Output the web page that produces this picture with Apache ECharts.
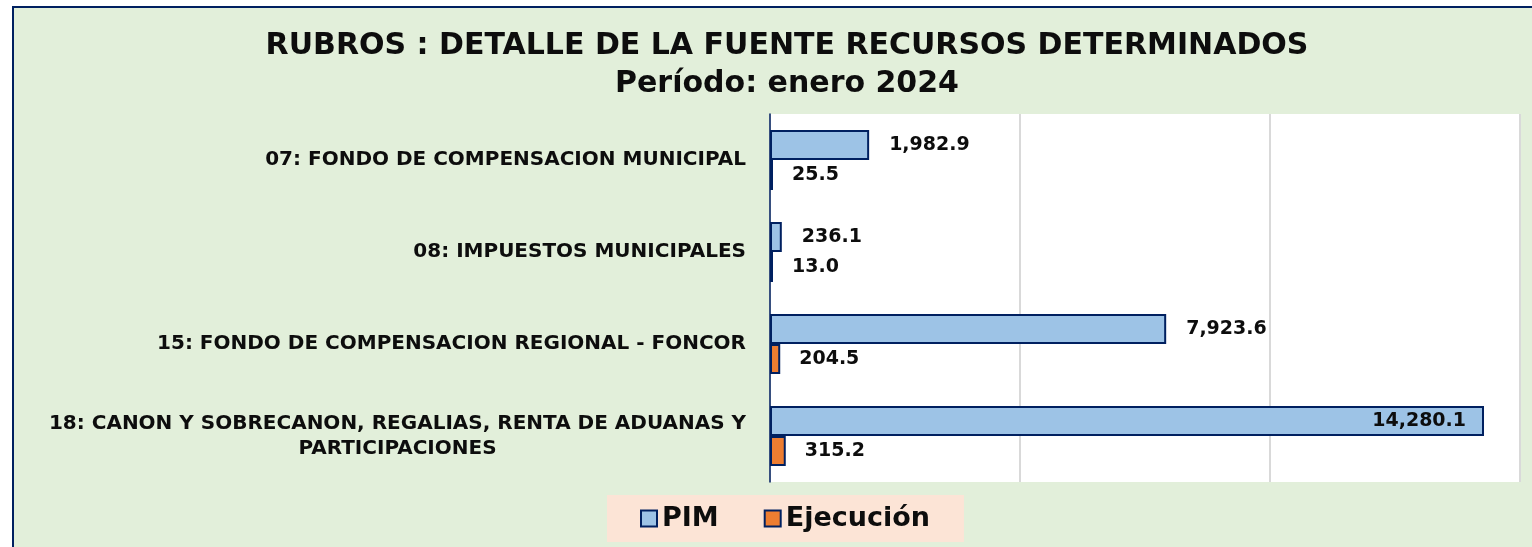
<!DOCTYPE html>
<html>
<head>
<meta charset="utf-8">
<script src="https://cdn.jsdelivr.net/npm/echarts@6/dist/echarts.min.js"></script>
<style>
html,body{margin:0;padding:0;background:#fff;}
#main{width:1532px;height:547px;}
</style>
</head>
<body>
<div id="main"></div>
<script>
var rubros = ["07: FONDO DE COMPENSACION MUNICIPAL","08: IMPUESTOS MUNICIPALES","15: FONDO DE COMPENSACION REGIONAL - FONCOR","18: CANON Y SOBRECANON, REGALIAS, RENTA DE ADUANAS Y\nPARTICIPACIONES"];
var pim = [1982.9, 236.1, 7923.6, 14280.1];
var ejecucion = [25.5, 13.0, 204.5, 315.2];

var font = 'DejaVu Sans';
var labelSize = 20;
var chart = echarts.init(document.getElementById('main'));

function fmt(v){
    return v.toLocaleString('en-US',{minimumFractionDigits:1,maximumFractionDigits:1});
}

// width of the longest line, used to center the wrapped label under its first line
function textWidth(str){
    var ctx = document.createElement('canvas').getContext('2d');
    ctx.font = 'bold ' + labelSize + 'px "' + font + '"';
    var w = 0;
    str.split('\n').forEach(function(s){ w = Math.max(w, ctx.measureText(s).width); });
    return Math.round(w);
}

var pimData = pim.map(function(v){
    if(v > 12000){
        return {value:v, label:{position:'insideRight', distance:18}};
    }
    return v;
});

var catData = rubros.map(function(name){
    if(name.indexOf('\n') > -1){
        return {value:name, textStyle:{align:'center', padding:[0,textWidth(name),0,0]}};
    }
    return name;
});

chart.setOption({
    backgroundColor:'#ffffff',
    graphic:[{
        type:'rect',
        z:-10,
        shape:{x:13,y:7,width:1600,height:600},
        style:{fill:'#e2efda',stroke:'#002060',lineWidth:2}
    }],
    title:{
        text:'RUBROS : DETALLE DE LA FUENTE RECURSOS DETERMINADOS\nPeríodo: enero 2024',
        left:782,
        top:22,
        textAlign:'center',
        textStyle:{fontFamily:font,fontWeight:'bold',fontSize:30,color:'#0d0d0d',lineHeight:38}
    },
    legend:{
        left:607,
        top:495,
        backgroundColor:'#fce4d6',
        padding:[10,34,10,33],
        icon:'rect',
        itemWidth:16,
        itemHeight:16,
        itemGap:45,
        data:['PIM','Ejecución'],
        itemStyle:{borderColor:'#002060',borderWidth:2},
        textStyle:{fontFamily:font,fontWeight:'bold',fontSize:27,lineHeight:25,color:'#0d0d0d'}
    },
    grid:{
        left:770,
        right:12,
        top:114,
        bottom:65,
        show:true,
        backgroundColor:'#ffffff',
        borderWidth:0
    },
    xAxis:{
        type:'value',
        min:0,
        max:15000,
        interval:5000,
        axisLabel:{show:false},
        axisLine:{show:false},
        axisTick:{show:false},
        splitLine:{lineStyle:{color:'#d9d9d9',width:2}}
    },
    yAxis:{
        type:'category',
        inverse:true,
        data:catData,
        axisTick:{show:false},
        axisLine:{lineStyle:{color:'#002060',width:1.5}},
        axisLabel:{
            margin:24,
            fontFamily:font,
            fontWeight:'bold',
            fontSize:labelSize,
            lineHeight:25,
            color:'#0d0d0d'
        }
    },
    series:[{
        name:'PIM',
        type:'bar',
        data:pimData,
        barWidth:30,
        barGap:'0%',
        itemStyle:{color:'#9dc3e6',borderColor:'#002060',borderWidth:2},
        label:{
            show:true,
            position:'right',
            distance:20,
            fontFamily:font,
            fontWeight:'bold',
            fontSize:19,
            color:'#0d0d0d',
            formatter:function(p){return fmt(p.value);}
        }
    },{
        name:'Ejecución',
        type:'bar',
        data:ejecucion,
        barWidth:30,
        barGap:'0%',
        barMinHeight:3,
        itemStyle:{color:'#ed7d31',borderColor:'#002060',borderWidth:2},
        label:{
            show:true,
            position:'right',
            distance:19,
            fontFamily:font,
            fontWeight:'bold',
            fontSize:19,
            color:'#0d0d0d',
            formatter:function(p){return fmt(p.value);}
        }
    }]
});
</script>
</body>
</html>
